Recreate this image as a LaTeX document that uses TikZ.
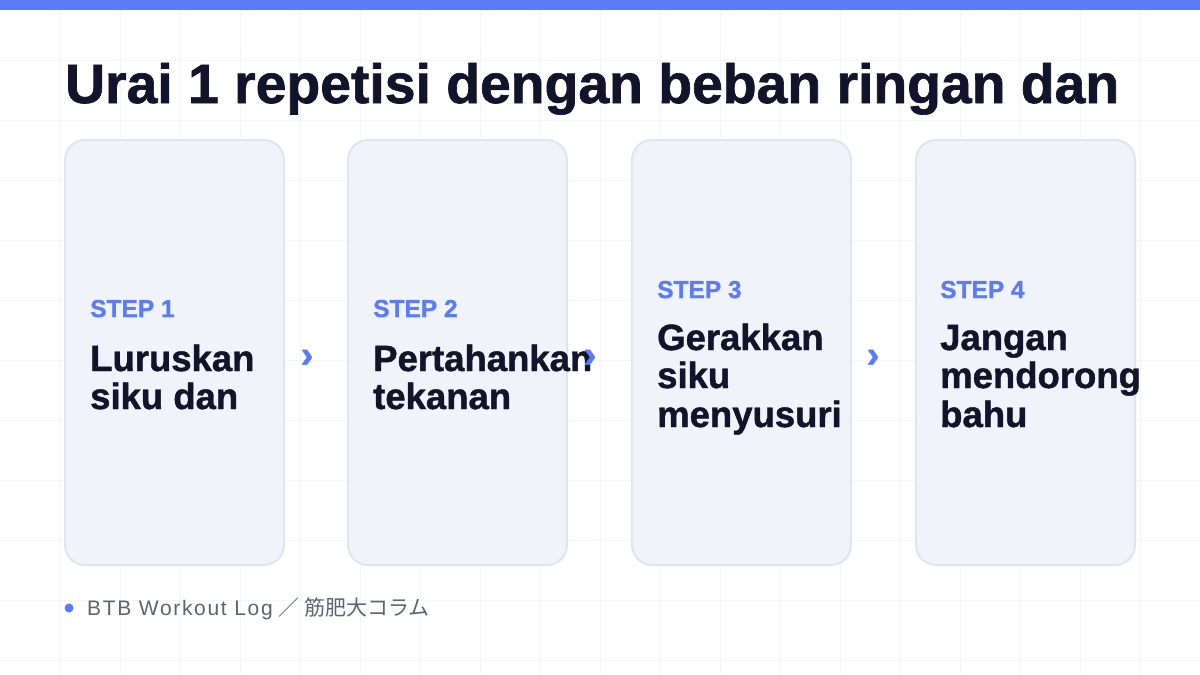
\documentclass[tikz,border=0pt]{standalone}
\usepackage{fontspec}
\setmainfont{Liberation Sans}[BoldFeatures={FakeBold=1.2}]
\newfontfamily\cjk{Noto Sans CJK JP}
\newfontfamily\footfont{Liberation Sans}[LetterSpace=8]
\definecolor{titlecol}{HTML}{11142A}
\definecolor{accent}{HTML}{5B7CF5}
\definecolor{cardfill}{HTML}{F1F3FA}
\definecolor{cardline}{HTML}{E0E4EF}
\definecolor{gridcol}{HTML}{F4F5F8}
\definecolor{footcol}{HTML}{5E6373}
\tikzset{
  card/.style={draw=cardline, fill=cardfill, line width=2pt, rounded corners=20pt,
    minimum width=219pt, minimum height=425pt, inner sep=0pt},
  steplabel/.style={anchor=base west, inner sep=0pt, text=accent, font=\fontsize{24.5}{28}\selectfont\bfseries},
  body/.style={anchor=base west, inner sep=0pt, text=titlecol, font=\fontsize{36.5}{40}\selectfont\bfseries},
  chev/.style={inner sep=0pt, text=accent, font=\fontsize{38}{40}\selectfont\bfseries},
}
\begin{document}
\begin{tikzpicture}[x=1pt,y=-1pt]
\fill[white] (0,0) rectangle (1200,675);
\useasboundingbox (0,0) rectangle (1200,675);
\foreach \gx in {60,120,...,1140} \draw[gridcol, line width=0.8pt] (\gx,0) -- (\gx,675);
\foreach \gy in {60,120,...,660} \draw[gridcol, line width=0.8pt] (0,\gy) -- (1200,\gy);
\fill[accent] (0,0) rectangle (1200,10);
\node[anchor=base west, inner sep=0pt, text=titlecol, font=\fontsize{55.3}{60}\selectfont\bfseries] (title) at (65,103) {Urai 1 repetisi dengan beban ringan dan};
\node[card] (c1) at (174.5,352.5) {};
\node[card] (c2) at (457.5,352.5) {};
\node[card] (c3) at (741.5,352.5) {};
\node[card] (c4) at (1025.5,352.5) {};
% card 1
\node[steplabel] (s1) at (90,317) {STEP 1};
\node[body] (b1a) at (90,371) {Luruskan};
\node[body] (b1b) at (90,409) {siku dan};
% card 2
\node[steplabel] (s2) at (373,317) {STEP 2};
\node[body] (b2a) at (373,371) {Pertahankan};
\node[body] (b2b) at (373,409) {tekanan};
% card 3
\node[steplabel] (s3) at (657,298) {STEP 3};
\node[body] (b3a) at (657,350) {Gerakkan};
\node[body] (b3b) at (657,388) {siku};
\node[body] (b3c) at (657,427) {menyusuri};
% card 4
\node[steplabel] (s4) at (940,298) {STEP 4};
\node[body] (b4a) at (940,350) {Jangan};
\node[body] (b4b) at (940,388) {mendorong};
\node[body] (b4c) at (940,427) {bahu};
% chevrons
\node[chev] (a1) at (307,358.5) {›};
\node[chev] (a2) at (590,358.5) {›};
\node[chev] (a3) at (873,358.5) {›};
% footer
\fill[accent] (69,608) circle (4.5);
\node[anchor=base west, inner sep=0pt, text=footcol, font=\fontsize{21}{24}\selectfont] (foot) at (87,615) {{\footfont BTB Workout Log} {\cjk ／ 筋肥大コラム}};
\end{tikzpicture}
\end{document}
